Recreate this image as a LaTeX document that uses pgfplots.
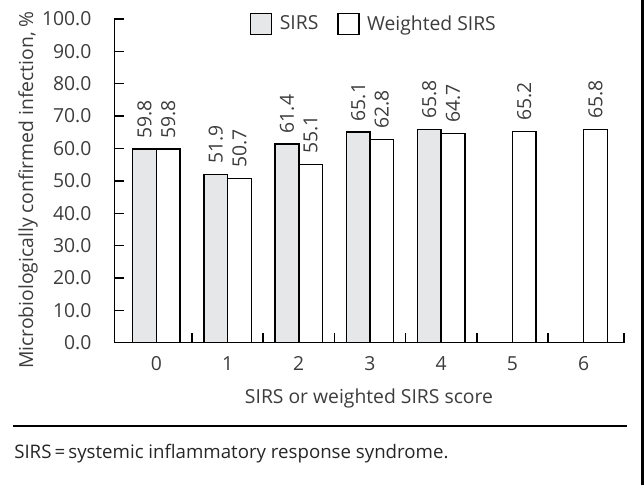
\documentclass[border=0pt]{standalone}
\usepackage{fontspec}
\setmainfont{Open Sans}
\usepackage{pgfplots}
\pgfplotsset{compat=1.18}
\definecolor{txt}{HTML}{3C3C3C}
\definecolor{sirs}{HTML}{E6E7E8}
\newcommand\f{\fontsize{14.5pt}{17pt}\selectfont}
\pgfplotsset{mylegend/.style={legend image code/.code={\draw[##1,line width=1pt] (0pt,-7.875pt) rectangle (15.75pt,7.875pt);}}}
\begin{document}
\begin{tikzpicture}
\path[use as bounding box] (0,0) rectangle (483pt,-363.75pt);
\begin{axis}[
  at={(85.725pt,-257.025pt)}, anchor=south west,
  scale only axis, width=382.275pt, height=242.775pt,
  xmin=-0.59, xmax=6.566, ymin=0, ymax=100,
  ybar=0pt, bar width=0.333,
  axis x line*=bottom, axis y line*=left,
  axis line style={line width=1pt,-,black},
  tick align=inside,
  xtick={0,...,6}, xticklabels={0,1,2,3,4,5,6},
  major x tick style={draw=none},
  minor xtick={0.5,1.5,2.5,3.5,4.5,5.5,6.566},
  ytick={0,10,...,100},
  major tick length=7pt, minor tick length=7pt,
  tick style={line width=1pt,black},
  /pgf/number format/.cd, fixed, fixed zerofill, precision=1, assume math mode=true,
  /pgfplots/.cd,
  ticklabel style={font=\f, text=txt},
  yticklabel style={anchor=east, inner sep=0pt, xshift=-17pt},
  xticklabel style={anchor=base, inner sep=0pt, yshift=-21pt},
  xlabel={SIRS or weighted SIRS score},
  xlabel style={at={(axis description cs:0.4997,-0.1872)}, anchor=base, font=\f, text=txt, inner sep=0pt},
  ylabel={Microbiologically confirmed infection, \%},
  ylabel style={at={(axis description cs:-0.1693,0.4717)}, anchor=center, font=\f, text=txt, inner sep=0pt},
  nodes near coords,
  every node near coord/.append style={rotate=90, anchor=west, inner sep=0pt, inner xsep=7.5pt, font=\f, text=txt},
  legend style={draw=none, fill=none, inner sep=0pt, at={(axis description cs:0.266,0.9855)}, anchor=west,
    nodes={inner sep=0pt, font=\f, text=txt},
    /tikz/every odd column/.append style={column sep=5.5pt},
    /tikz/every even column/.append style={column sep=14.25pt}},
  legend columns=2,
  legend cell align=left,
]
\addplot[fill=sirs, draw=black, line width=1.1pt, mylegend]
  coordinates {(0,59.8)(1,51.9)(2,61.4)(3,65.1)(4,65.8)};
\addplot[fill=white, draw=black, line width=1.1pt, mylegend]
  coordinates {(0,59.8)(1,50.7)(2,55.1)(3,62.8)(4,64.7)(5,65.2)(6,65.8)};
\legend{SIRS, Weighted SIRS}
\end{axis}
\draw[line width=1.5pt] (9.75pt,-319.3pt) -- (470pt,-319.3pt);
\fill (480.5pt,0pt) rectangle (483pt,-363.75pt);
\node[anchor=base west, inner sep=0pt, font=\fontsize{14pt}{17pt}\selectfont, text=black!85] at (10.5pt,-343.7pt) {SIRS\,=\,systemic inflammatory response syndrome.};
\end{tikzpicture}
\end{document}
